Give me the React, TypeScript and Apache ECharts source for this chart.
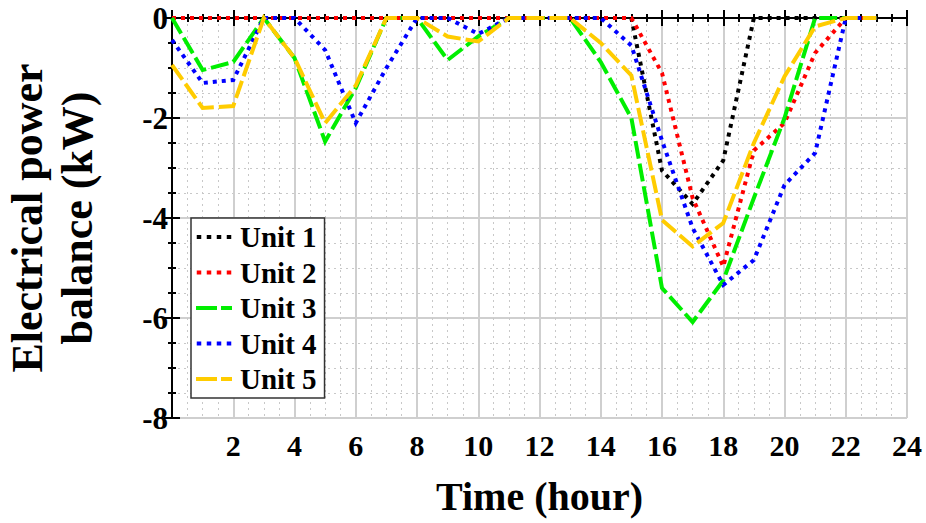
import React, { useEffect, useRef } from "react";
import * as echarts from "echarts";

const hours = [0, 1, 2, 3, 4, 5, 6, 7, 8, 9, 10, 11, 12, 13, 14, 15, 16, 17, 18, 19, 20, 21, 22, 23];
const unit1 = [0, 0, 0, 0, 0, 0, 0, 0, 0, 0, 0, 0, 0, 0, 0, 0, -3.05, -3.72, -2.85, 0, 0, 0, 0, 0];
const unit2 = [0, 0, 0, 0, 0, 0, 0, 0, 0, 0, 0, 0, 0, 0, 0, 0, -1.1, -3.6, -4.97, -2.65, -2.1, -0.7, 0, 0];
const unit3 = [0, -1.04, -0.88, 0, -0.8, -2.47, -1.4, 0, 0, -0.84, -0.37, 0, 0, 0, -0.88, -2.0, -5.4, -6.08, -5.25, -3.6, -2.0, 0, 0, 0];
const unit4 = [-0.44, -1.3, -1.24, 0, 0, -0.64, -2.1, -1.0, 0, 0, -0.32, 0, 0, 0, 0, -0.55, -2.45, -4.2, -5.34, -4.84, -3.34, -2.7, 0, 0];
const unit5 = [-0.94, -1.8, -1.76, 0, -0.8, -2.1, -1.35, 0, 0, -0.37, -0.47, 0, 0, 0, -0.5, -1.15, -4.04, -4.57, -4.1, -2.5, -1.17, -0.17, 0, 0];

const seriesNames = ["Unit 1", "Unit 2", "Unit 3", "Unit 4", "Unit 5"];
const seriesValues = [unit1, unit2, unit3, unit4, unit5];
const seriesColors = ["#000000", "#ff0000", "#00ee00", "#0000ff", "#ffcc00"];
const seriesDash: number[][] = [[4, 5], [4, 5], [18, 5], [4, 5], [18, 5]];

const DOT_ICON = "path://M0,0h4.5v4h-4.5zM10,0h4.5v4h-4.5zM20,0h4.5v4h-4.5zM30,0h4.5v4h-4.5z";
const DASH_ICON = "path://M0,0h21v4h-21zM25,0h11v4h-11z";
const seriesIcons = [DOT_ICON, DOT_ICON, DASH_ICON, DOT_ICON, DASH_ICON];

const FONT = "'Liberation Serif', 'Times New Roman', serif";

export default function App() {
  const ref = useRef<HTMLDivElement>(null);
  useEffect(() => {
    if (!ref.current) return;
    const chart = echarts.init(ref.current, null, { renderer: "svg" });
    const tickCommon = {
      axisLine: { show: true, lineStyle: { color: "#000", width: 2 } },
      axisTick: { show: true, inside: true, length: 8, lineStyle: { color: "#000", width: 2 } },
      minorTick: { show: true, splitNumber: 4, length: 4, lineStyle: { color: "#000", width: 2 } },
    };
    chart.setOption({
      animation: false,
      backgroundColor: "#fff",
      grid: { left: 172, right: 19, top: 18, bottom: 105, containLabel: false, outerBoundsMode: "none" },
      legend: {
        orient: "vertical",
        left: 191,
        top: 218,
        data: seriesNames.map((name, i) => ({ name, icon: seriesIcons[i] })),
        backgroundColor: "#fff",
        borderColor: "#333",
        borderWidth: 1.5,
        borderRadius: 0,
        padding: [4, 8, 4, 5],
        itemWidth: 36,
        itemHeight: 4,
        itemGap: 5.5,
        itemStyle: { borderWidth: 0 },
        textStyle: { fontFamily: FONT, fontWeight: "bold", fontSize: 29, color: "#000", lineHeight: 30, padding: [0, 0, 0, 3] },
      },
      xAxis: [
        {
          type: "value",
          min: 0,
          max: 24,
          interval: 2,
          ...tickCommon,
          axisLabel: {
            fontFamily: FONT,
            fontWeight: "bold",
            fontSize: 30,
            color: "#000",
            margin: 12,
            formatter: (v: number) => (v === 0 ? "" : String(v)),
          },
          splitLine: { show: true, lineStyle: { color: "#cfcfcf", width: 2 } },
          minorSplitLine: { show: true, lineStyle: { color: "#c8c8c8", width: 1, type: [2, 4] } },
          name: "Time (hour)",
          nameLocation: "middle",
          nameGap: 58,
          nameTextStyle: { fontFamily: FONT, fontWeight: "bold", fontSize: 40, color: "#000" },
        },
        {
          type: "value",
          position: "top",
          min: 0,
          max: 24,
          interval: 2,
          ...tickCommon,
          axisLabel: { show: false },
          splitLine: { show: false },
        },
      ],
      yAxis: [
        {
          type: "value",
          min: -8,
          max: 0,
          interval: 2,
          ...tickCommon,
          axisLabel: { fontFamily: FONT, fontWeight: "bold", fontSize: 31, color: "#000", margin: 4 },
          splitLine: { show: true, lineStyle: { color: "#cfcfcf", width: 2 } },
          minorSplitLine: { show: true, lineStyle: { color: "#c8c8c8", width: 1, type: [2, 4] } },
          name: "Electrical power\nbalance (kW)",
          nameLocation: "middle",
          nameRotate: 90,
          nameGap: 70,
          nameTextStyle: { fontFamily: FONT, fontWeight: "bold", fontSize: 44, color: "#000", lineHeight: 50 },
        },
        {
          type: "value",
          position: "right",
          min: -8,
          max: 0,
          interval: 2,
          ...tickCommon,
          axisLabel: { show: false },
          splitLine: { show: false },
        },
      ],
      series: seriesNames.map((name, i) => ({
        name,
        type: "line",
        xAxisIndex: 0,
        yAxisIndex: 0,
        data: hours.map((h, j) => [h, seriesValues[i][j]]),
        symbol: "none",
        clip: false,
        color: seriesColors[i],
        itemStyle: { color: seriesColors[i], borderWidth: 0 },
        lineStyle: { color: seriesColors[i], width: 4, type: seriesDash[i], cap: "butt", join: "miter" },
      })),
    });
    return () => chart.dispose();
  }, []);
  return <div ref={ref} style={{ width: 926, height: 523, position: "absolute", left: 0, top: 0 }} />;
}
